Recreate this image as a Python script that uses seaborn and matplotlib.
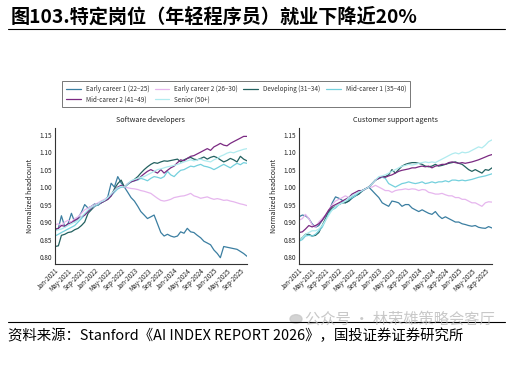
import numpy as np
import pandas as pd
import seaborn as sns
import matplotlib.pyplot as plt
import matplotlib.dates as mdates
from matplotlib.lines import Line2D
from matplotlib.patches import Circle

# monthly, Jan-2021 .. Nov-2025, normalized to Oct-2022
MONTHS = pd.date_range("2021-01-01", periods=59, freq="MS")

GROUPS = [
    "Early career 1 (22\u201325)",
    "Early career 2 (26\u201330)",
    "Developing (31\u201334)",
    "Mid-career 1 (35\u201340)",
    "Mid-career 2 (41\u201349)",
    "Senior (50+)",
]
COLORS = ["#3b7ea1", "#e6b6ee", "#22605f", "#74d0dd", "#7b2a82", "#b0ebef"]

# Software developers
sw_early1 = [0.877, 0.882, 0.918, 0.886, 0.895, 0.925, 0.90, 0.912, 0.928, 0.95, 0.94, 0.945, 0.952, 0.948, 0.955, 0.962, 0.972, 1.011, 1.0, 1.03, 1.012,
             1.0, 0.985, 0.97, 0.96, 0.945, 0.93, 0.92, 0.91, 0.915, 0.92, 0.895, 0.87, 0.86, 0.865, 0.86, 0.857, 0.86, 0.872, 0.868, 0.882, 0.872,
             0.87, 0.862, 0.855, 0.845, 0.84, 0.835, 0.82, 0.81, 0.798, 0.83, 0.828, 0.826, 0.824, 0.822, 0.816, 0.81, 0.802]
sw_early2 = [0.892, 0.895, 0.89, 0.90, 0.905, 0.90, 0.91, 0.915, 0.925, 0.935, 0.94, 0.945, 0.95, 0.955, 0.96, 0.965, 0.97, 0.98, 0.99, 0.995, 1.0,
             1.0, 0.998, 0.996, 0.995, 0.993, 0.99, 0.988, 0.985, 0.982, 0.975, 0.968, 0.962, 0.96, 0.962, 0.965, 0.97, 0.972, 0.974, 0.975, 0.978,
             0.982, 0.975, 0.972, 0.968, 0.97, 0.972, 0.968, 0.965, 0.967, 0.965, 0.962, 0.963, 0.96, 0.958, 0.955, 0.952, 0.95, 0.947]
sw_developing = [0.83, 0.832, 0.862, 0.865, 0.87, 0.872, 0.878, 0.882, 0.89, 0.90, 0.925, 0.935, 0.945, 0.95, 0.955, 0.96, 0.965, 0.975, 0.995, 1.01, 1.02,
                 1.0, 1.008, 1.015, 1.022, 1.03, 1.04, 1.05, 1.058, 1.065, 1.07, 1.068, 1.072, 1.075, 1.074, 1.076, 1.078, 1.08, 1.072, 1.078, 1.082,
                 1.085, 1.08, 1.078, 1.082, 1.086, 1.08, 1.085, 1.088, 1.084, 1.078, 1.072, 1.076, 1.082, 1.078, 1.072, 1.088, 1.08, 1.075]
sw_mid1 = [0.86, 0.865, 0.87, 0.875, 0.88, 0.885, 0.89, 0.9, 0.91, 0.92, 0.93, 0.94, 0.945, 0.95, 0.955, 0.96, 0.968, 0.975, 0.985, 0.995, 1.0,
           1.0, 1.008, 1.015, 1.018, 1.02, 1.025, 1.022, 1.018, 1.025, 1.03, 1.028, 1.025, 1.03, 1.045, 1.035, 1.03, 1.04, 1.048, 1.05, 1.055,
           1.06, 1.058, 1.062, 1.065, 1.06, 1.058, 1.055, 1.05, 1.055, 1.06, 1.065, 1.06, 1.055, 1.062, 1.068, 1.064, 1.07, 1.068]
sw_mid2 = [0.88, 0.882, 0.89, 0.888, 0.895, 0.898, 0.905, 0.91, 0.915, 0.92, 0.93, 0.94, 0.948, 0.952, 0.955, 0.96, 0.965, 0.975, 0.99, 1.0, 1.005,
           1.0, 1.01, 1.015, 1.018, 1.022, 1.03, 1.038, 1.045, 1.05, 1.045, 1.04, 1.05, 1.04, 1.048, 1.055, 1.06, 1.07, 1.078, 1.075, 1.082,
           1.088, 1.09, 1.095, 1.1, 1.105, 1.11, 1.105, 1.115, 1.12, 1.125, 1.12, 1.118, 1.125, 1.13, 1.135, 1.14, 1.145, 1.145]
sw_senior = [0.875, 0.878, 0.88, 0.885, 0.89, 0.895, 0.9, 0.905, 0.915, 0.925, 0.935, 0.942, 0.948, 0.952, 0.958, 0.962, 0.97, 0.98, 0.99, 0.998, 1.002,
             1.0, 1.01, 1.018, 1.022, 1.025, 1.028, 1.03, 1.035, 1.04, 1.045, 1.05, 1.052, 1.055, 1.058, 1.06, 1.062, 1.065, 1.068, 1.072, 1.075,
             1.078, 1.075, 1.078, 1.08, 1.076, 1.074, 1.072, 1.078, 1.082, 1.088, 1.092, 1.097, 1.1, 1.098, 1.102, 1.105, 1.108, 1.11]

# Customer support agents
cs_early1 = [0.915, 0.92, 0.918, 0.91, 0.895, 0.885, 0.89, 0.905, 0.918, 0.93, 0.955, 0.972, 0.968, 0.962, 0.955, 0.96, 0.968, 0.975, 0.98, 0.988, 0.995,
             1.0, 0.99, 0.98, 0.97, 0.955, 0.95, 0.945, 0.96, 0.958, 0.955, 0.945, 0.95, 0.95, 0.94, 0.935, 0.93, 0.935, 0.93, 0.925, 0.922,
             0.93, 0.918, 0.91, 0.915, 0.91, 0.905, 0.90, 0.90, 0.895, 0.893, 0.89, 0.888, 0.89, 0.885, 0.883, 0.882, 0.887, 0.883]
cs_early2 = [0.905, 0.91, 0.922, 0.91, 0.892, 0.885, 0.9, 0.91, 0.92, 0.935, 0.95, 0.96, 0.965, 0.97, 0.975, 0.97, 0.975, 0.98, 0.985, 0.99, 0.995,
             1.0, 1.0, 1.005, 1.0, 0.995, 0.99, 0.99, 0.985, 0.99, 0.992, 0.993, 0.995, 0.993, 0.995, 0.994, 0.99, 0.993, 0.992, 0.985, 0.983,
             0.98, 0.98, 0.982, 0.978, 0.975, 0.975, 0.97, 0.97, 0.965, 0.965, 0.96, 0.955, 0.955, 0.95, 0.945, 0.955, 0.958, 0.957]
cs_developing = [0.85, 0.855, 0.865, 0.865, 0.86, 0.862, 0.87, 0.89, 0.91, 0.93, 0.94, 0.945, 0.95, 0.955, 0.955, 0.96, 0.97, 0.975, 0.98, 0.99, 0.995,
                 1.0, 1.01, 1.02, 1.025, 1.03, 1.03, 1.035, 1.05, 1.04, 1.05, 1.06, 1.065, 1.068, 1.07, 1.07, 1.068, 1.065, 1.06, 1.058, 1.06,
                 1.065, 1.06, 1.062, 1.065, 1.068, 1.07, 1.072, 1.068, 1.065, 1.058, 1.05, 1.045, 1.05, 1.045, 1.04, 1.05, 1.048, 1.055]
cs_mid1 = [0.845, 0.85, 0.86, 0.862, 0.86, 0.865, 0.875, 0.885, 0.905, 0.925, 0.935, 0.94, 0.95, 0.955, 0.96, 0.965, 0.97, 0.975, 0.985, 0.99, 0.995,
           1.0, 1.01, 1.02, 1.025, 1.028, 1.025, 1.01, 1.005, 1.0, 1.005, 1.01, 1.012, 1.015, 1.012, 1.01, 1.012, 1.015, 1.01, 1.012, 1.015,
           1.012, 1.015, 1.015, 1.018, 1.015, 1.02, 1.02, 1.018, 1.02, 1.018, 1.02, 1.022, 1.025, 1.028, 1.03, 1.032, 1.035, 1.038]
cs_mid2 = [0.87, 0.872, 0.88, 0.89, 0.886, 0.89, 0.895, 0.905, 0.92, 0.935, 0.945, 0.95, 0.955, 0.96, 0.965, 0.97, 0.98, 0.985, 0.99, 0.99, 0.995,
           1.0, 1.01, 1.02, 1.025, 1.03, 1.028, 1.032, 1.035, 1.04, 1.045, 1.048, 1.05, 1.052, 1.055, 1.055, 1.058, 1.06, 1.058, 1.06, 1.055,
           1.06, 1.062, 1.065, 1.065, 1.07, 1.072, 1.07, 1.068, 1.07, 1.068, 1.07, 1.072, 1.075, 1.078, 1.082, 1.086, 1.09, 1.093]
cs_senior = [0.85, 0.855, 0.865, 0.87, 0.875, 0.875, 0.88, 0.89, 0.905, 0.92, 0.935, 0.945, 0.95, 0.955, 0.96, 0.97, 0.975, 0.98, 0.985, 0.99, 0.995,
             1.0, 1.01, 1.02, 1.03, 1.032, 1.035, 1.04, 1.045, 1.05, 1.055, 1.06, 1.062, 1.065, 1.063, 1.065, 1.068, 1.07, 1.072, 1.07, 1.072,
             1.07, 1.075, 1.08, 1.085, 1.09, 1.095, 1.098, 1.095, 1.10, 1.098, 1.10, 1.105, 1.11, 1.115, 1.112, 1.12, 1.13, 1.135]

PANELS = {
    "Software developers": [sw_early1, sw_early2, sw_developing, sw_mid1, sw_mid2, sw_senior],
    "Customer support agents": [cs_early1, cs_early2, cs_developing, cs_mid1, cs_mid2, cs_senior],
}
Y_TICKS = [0.80, 0.85, 0.90, 0.95, 1.00, 1.05, 1.10, 1.15]


def long_frame(series_list):
    rows = []
    for group, values in zip(GROUPS, series_list):
        for month, v in zip(MONTHS, values):
            rows.append({"month": month, "group": group, "headcount": v})
    return pd.DataFrame(rows)


sns.set_style("white")
plt.rcParams["font.family"] = ["Noto Sans CJK SC", "DejaVu Sans"]

fig = plt.figure(figsize=(5.14, 3.69), dpi=100)
W, H = 514, 369
palette = dict(zip(GROUPS, COLORS))

axes_px = [(55, 247), (299, 492)]
top_px, bottom_px = 128, 264
for (title, series_list), (x0, x1) in zip(PANELS.items(), axes_px):
    ax = fig.add_axes([x0 / W, 1 - bottom_px / H, (x1 - x0) / W, (bottom_px - top_px) / H])
    df = long_frame(series_list)
    sns.lineplot(data=df, x="month", y="headcount", hue="group", palette=palette,
                 hue_order=GROUPS, linewidth=0.9, legend=False, ax=ax)
    ax.set_xlim(MONTHS[0], MONTHS[-1])
    ax.set_ylim(0.78, 1.169)
    ax.set_yticks(Y_TICKS)
    ax.set_yticklabels([f"{t:.2f}" for t in Y_TICKS])
    ax.xaxis.set_major_locator(mdates.MonthLocator(bymonth=[1, 5, 9]))
    ax.xaxis.set_major_formatter(mdates.DateFormatter("%b-%Y"))
    for lab in ax.get_xticklabels():
        lab.set_rotation(45)
        lab.set_ha("right")
        lab.set_rotation_mode("anchor")
    ax.tick_params(axis="both", length=0, labelsize=4.6, pad=2, colors="#222222")
    ax.set_xlabel("")
    ax.set_ylabel("Normalized headcount", fontsize=5, color="#222222", labelpad=4)
    ax.set_title(title, fontsize=5.2, color="#222222", pad=4)
    sns.despine(ax=ax)
    for side in ["left", "bottom"]:
        ax.spines[side].set_color("#333333")
        ax.spines[side].set_linewidth(0.8)
    ax.grid(False)

# legend, filled column-wise so rows read like the original
order = [0, 4, 1, 5, 2, 3]
handles = [Line2D([0], [0], color=COLORS[i], lw=0.9) for i in order]
labels = [GROUPS[i] for i in order]
leg = fig.legend(handles, labels, ncol=4, loc="lower left",
                 bbox_to_anchor=(62 / W, 1 - 107 / H, (410 - 62) / W, 24 / H),
                 mode="expand", fontsize=4.6, frameon=True, fancybox=False,
                 handlelength=2.3, handletextpad=0.8, borderpad=0.6,
                 labelspacing=0.35, borderaxespad=0)
leg.get_frame().set_edgecolor("#555555")
leg.get_frame().set_linewidth(0.7)
for t in leg.get_texts():
    t.set_color("#333333")

# header and footer
fig.text(11 / W, 1 - 17 / H, "图103.特定岗位（年轻程序员）就业下降近20%",
         fontsize=13.8, fontweight="bold", va="center", ha="left", color="black")
fig.add_artist(Line2D([8 / W, 505 / W], [1 - 29 / H, 1 - 29 / H], color="black", lw=0.8))
fig.add_artist(Line2D([8 / W, 505 / W], [1 - 322 / H, 1 - 322 / H], color="black", lw=0.8))
fig.add_artist(Circle((296 / W, 1 - 319 / H), 6 / W, transform=fig.transFigure,
                      color="#c8c8c8", alpha=0.8))
fig.text(305 / W, 1 - 319 / H, "公众号 · 林荣雄策略会客厅", fontsize=11,
         color="#bbbbbb", alpha=0.8, va="center", ha="left")
fig.text(8 / W, 1 - 336 / H, "资料来源：Stanford《AI INDEX REPORT 2026》，国投证券证券研究所",
         fontsize=10.4, style="italic", va="center", ha="left", color="black")

fig.savefig("out.png", dpi=100, facecolor="white")
